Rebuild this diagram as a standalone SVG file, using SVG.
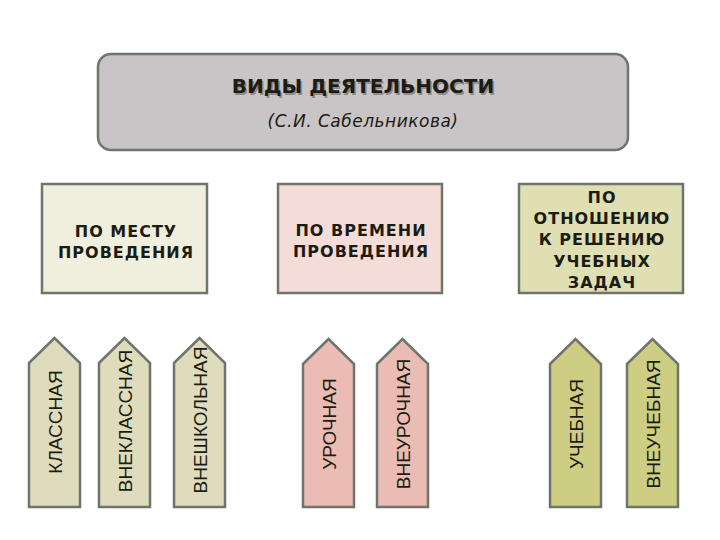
<svg xmlns="http://www.w3.org/2000/svg" width="720" height="540" viewBox="0 0 720 540">
<style>
.bx{stroke:#6e756c;stroke-width:2.5}
.hd{font-family:"DejaVu Sans",sans-serif;font-weight:bold;font-size:16px;letter-spacing:1px;fill:#1c1c12;text-anchor:middle}
.ar{stroke:#6e756c;stroke-width:2.5;stroke-linejoin:miter}
.at{font-family:"Liberation Sans",Arial,sans-serif;font-size:19px;fill:#1c1c12;text-anchor:middle}
.g1{fill:#dfdcbd}.g2{fill:#ebbcb3}.g3{fill:#cdcd83}
</style>
<rect width="720" height="540" fill="#ffffff"/>
<g id="root">
<rect x="98" y="54" width="530" height="96" rx="13" fill="#c9c4c6" stroke="#6e756c" stroke-width="2.5"/>
<text x="364.5" y="94.5" font-family="DejaVu Sans,sans-serif" font-weight="bold" font-size="20" text-anchor="middle" fill="#8f8b8c">ВИДЫ ДЕЯТЕЛЬНОСТИ</text>
<text x="363" y="93" font-family="DejaVu Sans,sans-serif" font-weight="bold" font-size="20" text-anchor="middle" fill="#1c1c12">ВИДЫ ДЕЯТЕЛЬНОСТИ</text>
<text x="363" y="127" font-family="DejaVu Sans,sans-serif" font-style="italic" font-size="17" letter-spacing="0.5" text-anchor="middle" fill="#1c1c12">(С.И. Сабельникова)</text>
</g>
<g id="place">
<rect class="bx" x="42" y="184" width="165" height="109" fill="#f0efdd"/>
<text class="hd" x="126" y="237">ПО МЕСТУ</text>
<text class="hd" x="126" y="258">ПРОВЕДЕНИЯ</text>
</g>
<g id="time">
<rect class="bx" x="278" y="184" width="164" height="109" fill="#f4dcd9"/>
<text class="hd" x="361" y="236">ПО ВРЕМЕНИ</text>
<text class="hd" x="361" y="257">ПРОВЕДЕНИЯ</text>
</g>
<g id="task">
<rect class="bx" x="519" y="184" width="164" height="109" fill="#dfdfb3"/>
<text class="hd" x="602" y="203">ПО</text>
<text class="hd" x="602" y="224">ОТНОШЕНИЮ</text>
<text class="hd" x="602" y="245">К РЕШЕНИЮ</text>
<text class="hd" x="602" y="267">УЧЕБНЫХ</text>
<text class="hd" x="602" y="288">ЗАДАЧ</text>
</g>
<g id="a1">
<polygon class="ar g1" points="29,363 54.5,338 80,363 80,507 29,507"/>
<text class="at" transform="translate(61.5,422) rotate(-90)">КЛАССНАЯ</text>
</g>
<g id="a2">
<polygon class="ar g1" points="99,363 124.5,338 150,363 150,507 99,507"/>
<text class="at" transform="translate(131.5,421) rotate(-90)">ВНЕКЛАССНАЯ</text>
</g>
<g id="a3">
<polygon class="ar g1" points="174,363 199.5,338 225,363 225,507 174,507"/>
<text class="at" transform="translate(206.5,420) rotate(-90)">ВНЕШКОЛЬНАЯ</text>
</g>
<g id="a4">
<polygon class="ar g2" points="303,364 328.5,339 354,364 354,507 303,507"/>
<text class="at" transform="translate(335.5,424) rotate(-90)">УРОЧНАЯ</text>
</g>
<g id="a5">
<polygon class="ar g2" points="377,364 402.5,339 428,364 428,507 377,507"/>
<text class="at" transform="translate(409.5,424) rotate(-90)">ВНЕУРОЧНАЯ</text>
</g>
<g id="a6">
<polygon class="ar g3" points="550,364 575.5,339 601,364 601,507 550,507"/>
<text class="at" transform="translate(582.5,424) rotate(-90)">УЧЕБНАЯ</text>
</g>
<g id="a7">
<polygon class="ar g3" points="627,364 652.5,339 678,364 678,507 627,507"/>
<text class="at" transform="translate(659.5,424) rotate(-90)">ВНЕУЧЕБНАЯ</text>
</g>
<g id="connectors"></g>
</svg>
